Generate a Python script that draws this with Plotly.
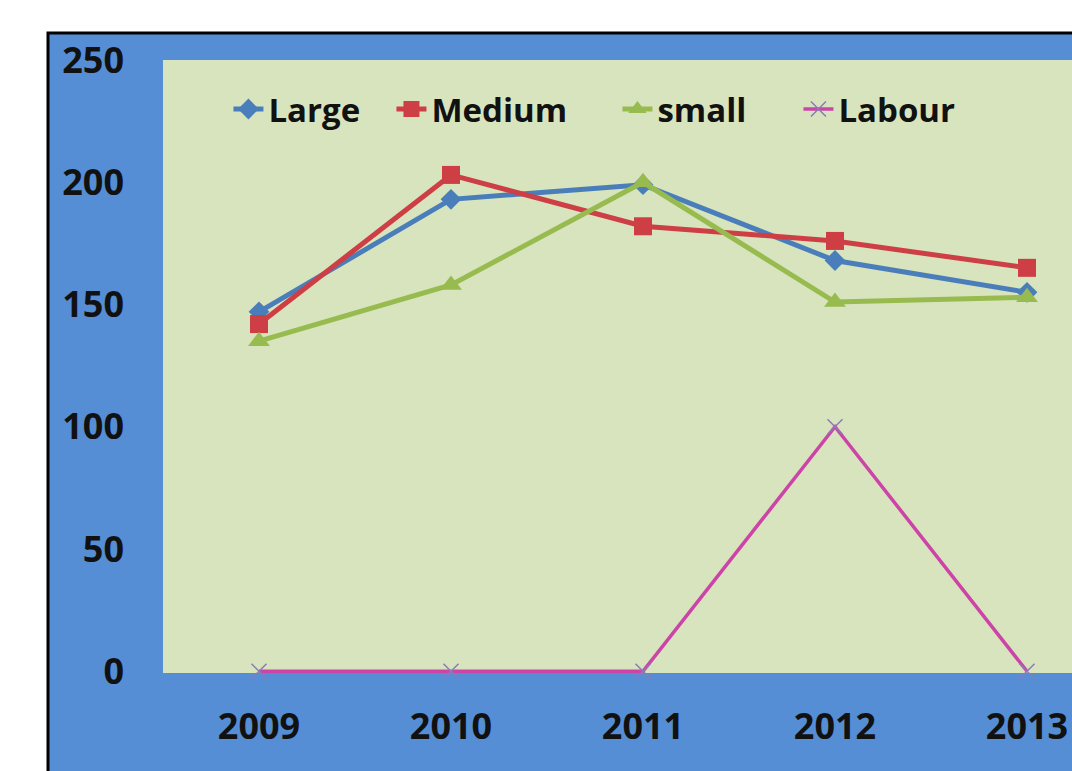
import plotly.graph_objects as go

years = ["2009", "2010", "2011", "2012", "2013"]
large = [147, 193, 199, 168, 155]
medium = [142, 203, 182, 176, 165]
small = [135, 158, 200, 151, 153]
labour = [0, 0, 0, 100, 0]

FONT = "Open Sans"
fig = go.Figure()

fig.add_trace(go.Scatter(x=years, y=large, name="Large", mode="lines+markers",
                         line=dict(color="#4A7EBB", width=5),
                         marker=dict(symbol="diamond", size=16, color="#4A7EBB"),
                         legendwidth=118, cliponaxis=False))
fig.add_trace(go.Scatter(x=years, y=medium, name="Medium", mode="lines+markers",
                         line=dict(color="#CE3E45", width=5),
                         marker=dict(symbol="square", size=18, color="#CE3E45"),
                         legendwidth=181, cliponaxis=False))
fig.add_trace(go.Scatter(x=years, y=small, name="small", mode="lines+markers",
                         line=dict(color="#98BB4F", width=5),
                         marker=dict(symbol="triangle-up", size=19, color="#98BB4F"),
                         legendwidth=136, cliponaxis=False))
fig.add_trace(go.Scatter(x=years, y=labour, name="Labour", mode="lines+markers",
                         line=dict(color="#CC44A8", width=3.5),
                         marker=dict(symbol="x-thin", size=15,
                                     line=dict(color="#8C7AB8", width=1.5)),
                         legendwidth=125, cliponaxis=False))

L, T, B = 163, 60, 673
W, H = 1072, 771
pw = W - L
ph = B - T

fig.update_layout(
    width=W, height=H,
    margin=dict(l=L, r=0, t=T, b=H - B),
    paper_bgcolor="white",
    plot_bgcolor="#D8E4BD",
    showlegend=True,
    legend=dict(orientation="h", x=0.072, y=0.92, xanchor="left", yanchor="middle",
                bgcolor="rgba(0,0,0,0)",
                font=dict(family=FONT, size=33, color="#111111", weight="bold"),
                itemwidth=30, tracegroupgap=0),
    font=dict(family=FONT),
    shapes=[
        dict(type="rect", xref="paper", yref="paper",
             x0=(48 - L) / pw, x1=1.2, y0=-0.5, y1=(B - 33) / ph,
             fillcolor="#558ED5", line=dict(color="black", width=3), layer="below"),
        dict(type="rect", xref="paper", yref="paper",
             x0=0, x1=1, y0=0, y1=1,
             fillcolor="#D8E4BD", line=dict(width=0), layer="below"),
    ],
)

fig.update_xaxes(type="category", range=[-0.5, pw / 192 - 0.5],
                 showgrid=False, zeroline=False, showline=False, ticks="",
                 tickfont=dict(family=FONT, size=36, color="#111111", weight="bold"),
                 ticklabelstandoff=29)
fig.update_yaxes(range=[-0.7, 250], tickvals=[0, 50, 100, 150, 200, 250],
                 showgrid=False, zeroline=False, showline=False, ticks="",
                 tickfont=dict(family=FONT, size=36, color="#111111", weight="bold"),
                 ticklabelstandoff=38)

fig.write_html("out.html")
